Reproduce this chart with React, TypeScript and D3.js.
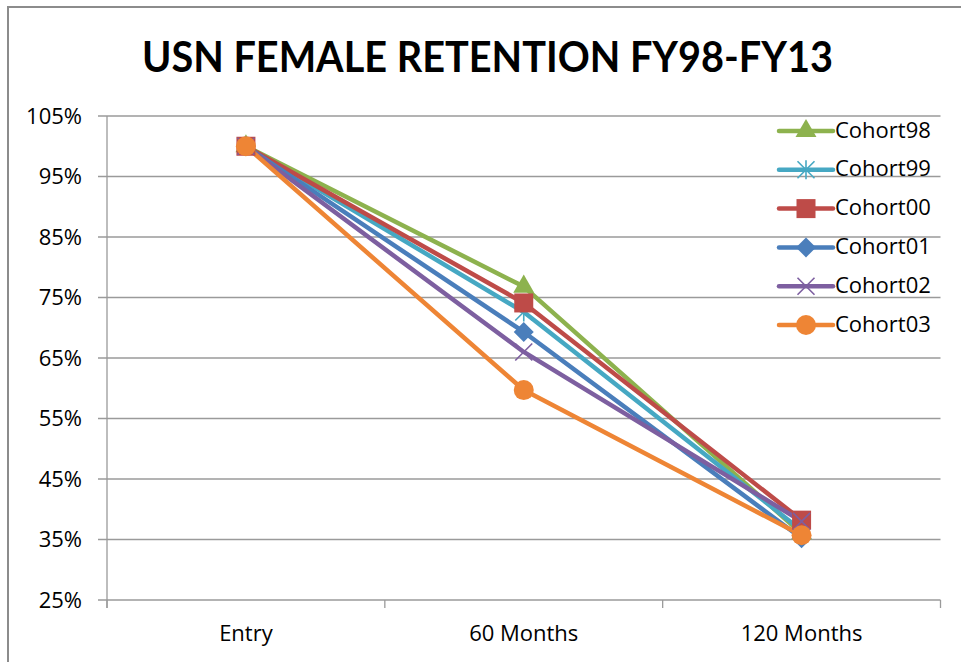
import React from "react";
import * as d3 from "d3";

const categories = ["Entry", "60 Months", "120 Months"];
const seriesNames = ["Cohort98", "Cohort99", "Cohort00", "Cohort01", "Cohort02", "Cohort03"];
const cohort98 = [100, 76.8, 36.0];
const cohort99 = [100, 72.6, 36.5];
const cohort00 = [100, 74.1, 38.2];
const cohort01 = [100, 69.3, 35.2];
const cohort02 = [100, 66.0, 38.0];
const cohort03 = [100, 59.7, 35.7];
const yTicks = [25, 35, 45, 55, 65, 75, 85, 95, 105];
const title = "USN FEMALE RETENTION FY98-FY13";

const colors = ["#8DB24E", "#46A8C3", "#BE4B48", "#4A7EBB", "#7D5FA0", "#EE8535"];
const markers = ["triangle", "asterisk", "square", "diamond", "x", "circle"];
const allSeries = [cohort98, cohort99, cohort00, cohort01, cohort02, cohort03];

const W = 961;
const H = 662;
const plot = { left: 107, right: 940.5, top: 116, bottom: 600 };

function Marker({ type, x, y, color }: { type: string; x: number; y: number; color: string }) {
  if (type === "triangle") {
    const p = d3.symbol(d3.symbolTriangle, 190)();
    return <path d={p || ""} transform={`translate(${x},${y})`} fill={color} />;
  }
  if (type === "square") {
    return <rect x={x - 9.5} y={y - 9.5} width={19} height={19} fill={color} />;
  }
  if (type === "diamond") {
    return <path d={`M${x},${y - 10}L${x + 10},${y}L${x},${y + 10}L${x - 10},${y}Z`} fill={color} />;
  }
  if (type === "circle") {
    return <circle cx={x} cy={y} r={10} fill={color} />;
  }
  if (type === "x") {
    const s = 8.5;
    return (
      <path d={`M${x - s},${y - s}L${x + s},${y + s}M${x - s},${y + s}L${x + s},${y - s}`} stroke={color} strokeWidth={1.6} fill="none" />
    );
  }
  // asterisk
  const s = 8.5;
  return (
    <path
      d={`M${x - s},${y - s}L${x + s},${y + s}M${x - s},${y + s}L${x + s},${y - s}M${x},${y - s - 1}L${x},${y + s + 1}`}
      stroke={color}
      strokeWidth={1.6}
      fill="none"
    />
  );
}

export default function App() {
  const x = d3.scaleBand<string>().domain(categories).range([plot.left, plot.right]).padding(0);
  const y = d3.scaleLinear().domain([25, 105]).range([plot.bottom, plot.top]);
  const line = d3
    .line<number>()
    .x((_, i) => (x(categories[i]) as number) + x.bandwidth() / 2)
    .y((d) => y(d));
  const grid = "#9A9A9A";
  const font = "'Open Sans', 'DejaVu Sans', sans-serif";
  const boundaries = [...categories.map((c) => x(c) as number), plot.right];
  const legendX = 779;
  const legendY0 = 131;
  const legendStep = 38.8;

  return (
    <svg width={W} height={H} style={{ position: "fixed", left: 0, top: 0, background: "#fff" }}>
      <rect x={0} y={0} width={W} height={H} fill="#fff" />
      <rect x={8} y={7} width={W + 20} height={H + 20} fill="#fff" stroke="#8C8C8C" strokeWidth={2} />
      <text
        x={487.5}
        y={72}
        textAnchor="middle"
        fontFamily="Lato, 'Open Sans', sans-serif"
        fontWeight="bold"
        fontSize={42}
        textLength={691}
        lengthAdjust="spacingAndGlyphs"
        fill="#000"
      >
        {title}
      </text>
      {yTicks.map((t) => (
        <g key={t}>
          <line x1={plot.left - 9} x2={plot.right} y1={y(t)} y2={y(t)} stroke={grid} strokeWidth={1.3} />
          <text x={82} y={y(t) + 7.5} textAnchor="end" fontFamily={font} fontSize={22} fill="#000">
            {t}%
          </text>
        </g>
      ))}
      <line x1={plot.left} x2={plot.left} y1={plot.top} y2={plot.bottom + 8} stroke={grid} strokeWidth={1.3} />
      {boundaries.map((b, i) => (
        <line key={i} x1={b} x2={b} y1={plot.bottom} y2={plot.bottom + 8} stroke={grid} strokeWidth={1.3} />
      ))}
      {categories.map((c) => (
        <text
          key={c}
          x={(x(c) as number) + x.bandwidth() / 2}
          y={641}
          textAnchor="middle"
          fontFamily={font}
          fontSize={22}
          fill="#000"
        >
          {c}
        </text>
      ))}
      {allSeries.map((s, i) => (
        <path key={i} d={line(s) || ""} fill="none" stroke={colors[i]} strokeWidth={4.5} strokeLinejoin="round" />
      ))}
      {allSeries.map((s, i) => (
        <g key={i}>
          {s.map((v, j) => (
            <Marker
              key={j}
              type={markers[i]}
              x={(x(categories[j]) as number) + x.bandwidth() / 2}
              y={y(v)}
              color={colors[i]}
            />
          ))}
        </g>
      ))}
      {seriesNames.map((n, i) => {
        const ly = legendY0 + i * legendStep;
        return (
          <g key={n}>
            <line x1={legendX} x2={legendX + 54} y1={ly} y2={ly} stroke={colors[i]} strokeWidth={4.5} strokeLinecap="round" />
            <Marker type={markers[i]} x={legendX + 27} y={ly} color={colors[i]} />
            <text x={835} y={ly + 6.5} fontFamily={font} fontSize={22} fill="#000">
              {n}
            </text>
          </g>
        );
      })}
    </svg>
  );
}
